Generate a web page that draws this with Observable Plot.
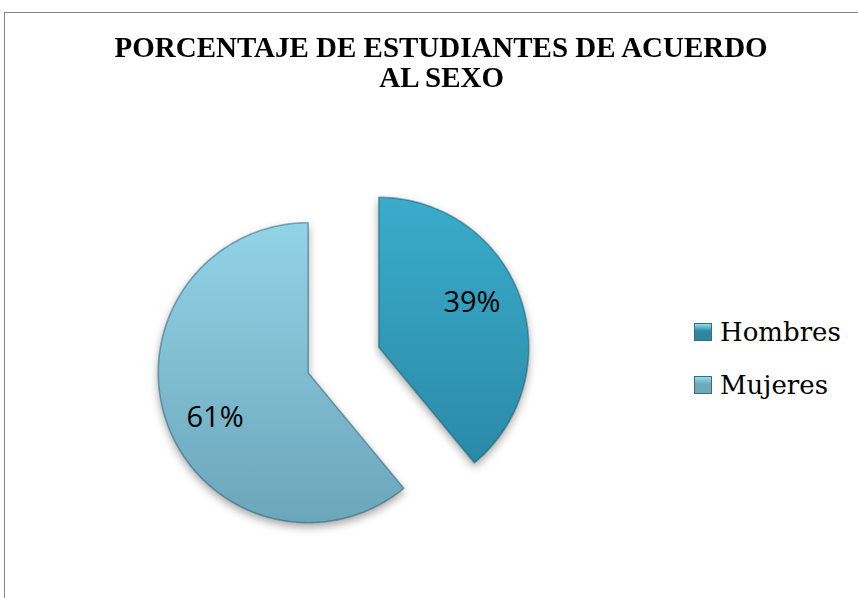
<!DOCTYPE html>
<html>
<head>
<meta charset="utf-8">
<script src="https://cdn.jsdelivr.net/npm/d3@7"></script>
<script src="https://cdn.jsdelivr.net/npm/@observablehq/plot@0.6"></script>
<style>
  html, body { margin: 0; padding: 0; background: #fff; }
  #wrap { position: relative; width: 858px; height: 598px; overflow: hidden; }
  #frame { position: absolute; left: 4px; top: 12px; width: 900px; height: 700px;
           border-left: 1px solid #858585; border-top: 1px solid #858585; }
  #title { position: absolute; left: 0; top: 32px; width: 883px; text-align: center;
           font-family: "Liberation Serif", serif; font-weight: bold; font-size: 30px;
           line-height: 30px; color: #000; }
  #title span { display: inline-block; transform-origin: 50% 50%; }
  #chart { position: absolute; left: 0; top: 0; }
  .leg { position: absolute; left: 694px; font-family: "DejaVu Serif", serif; font-size: 26px;
         color: #000; white-space: nowrap; }
  .sw { position: absolute; left: 0; width: 18px; height: 18px; box-sizing: border-box; }
  .leg span.t { position: absolute; left: 26px; }
</style>
</head>
<body>
<div id="wrap">
  <div id="frame"></div>
  <div id="chart"></div>
  <div id="title"><span id="t1">PORCENTAJE DE ESTUDIANTES DE ACUERDO</span><br><span id="t2">AL SEXO</span></div>
  <div id="legend"></div>
</div>
<script>
// ---- data ----
const categories = ["Hombres", "Mujeres"];
const values = [39, 61];
const labels = ["39%", "61%"];
const colorsTop = ["#3aaccb", "#93d3e7"];
const colorsBottom = ["#2a8aa8", "#6ba6bb"];
const legendSwatch = ["#2b87a3", "#6fa7bc"];

// ---- geometry (unit radius pie, y up) ----
const explode = 0.25;
const labelRadius = 0.69, labelTurn = -6 * Math.PI / 180;
const pie = d3.pie().sort(null).value(d => d)(values);
const slices = [];
const labelPts = [];
pie.forEach((p, i) => {
  const mid = (p.startAngle + p.endAngle) / 2;
  const ox = explode * Math.sin(mid), oy = explode * Math.cos(mid);
  slices.push({name: categories[i], x: ox, y: oy});
  const n = Math.max(2, Math.ceil((p.endAngle - p.startAngle) / (Math.PI / 180)));
  for (let j = 0; j <= n; j++) {
    const a = p.startAngle + (p.endAngle - p.startAngle) * j / n;
    slices.push({name: categories[i], x: ox + Math.sin(a), y: oy + Math.cos(a)});
  }
  const la = mid + labelTurn;
  labelPts.push({name: categories[i], label: labels[i],
                 x: ox + labelRadius * Math.sin(la), y: oy + labelRadius * Math.cos(la)});
});

const R = 150, cx = 343, cy = 359.5;
const chart = Plot.plot({
  width: 858, height: 598, margin: 0,
  x: {domain: [-cx / R, (858 - cx) / R], axis: null},
  y: {domain: [-(598 - cy) / R, cy / R], axis: null},
  color: {domain: categories, range: ["url(#gH)", "url(#gM)"]},
  marks: [
    Plot.line(slices, {x: "x", y: "y", z: "name", fill: "name", stroke: "#0d3e4e",
                       strokeOpacity: 0.4, strokeWidth: 1.6, curve: "linear-closed"}),
    Plot.text(labelPts, {x: "x", y: "y", text: "label", fontSize: 29, fill: "#000",
                         fontFamily: "Open Sans, sans-serif"})
  ]
});

const svg = d3.select(chart);
const defs = svg.insert("defs", ":first-child");
[["gH", 0], ["gM", 1]].forEach(([id, i]) => {
  const g = defs.append("linearGradient").attr("id", id)
    .attr("x1", 0).attr("y1", 0).attr("x2", 0).attr("y2", 1);
  g.append("stop").attr("offset", "0%").attr("stop-color", colorsTop[i]);
  g.append("stop").attr("offset", "100%").attr("stop-color", colorsBottom[i]);
});
const f = defs.append("filter").attr("id", "shadow")
  .attr("x", "-20%").attr("y", "-20%").attr("width", "140%").attr("height", "140%");
f.append("feDropShadow").attr("dx", 0).attr("dy", 4).attr("stdDeviation", 4)
  .attr("flood-color", "#000").attr("flood-opacity", 0.35);
svg.selectAll('g[aria-label="line"]').attr("filter", "url(#shadow)");

document.getElementById("chart").appendChild(chart);

// title: stretch horizontally to match the reference's width
const t1 = document.getElementById("t1"), t2 = document.getElementById("t2");
const sx = 653 / t1.getBoundingClientRect().width;
t1.style.transform = `scaleX(${sx})`;
t2.style.transform = `scaleX(${sx})`;

// ---- legend ----
const leg = document.getElementById("legend");
const legTops = [317, 370];
categories.forEach((c, i) => {
  const d = document.createElement("div");
  d.className = "leg";
  d.style.top = legTops[i] + "px";
  d.innerHTML = `<div class="sw" style="top:6px;background:linear-gradient(#8fe0f0 0%, ${legendSwatch[i]} 45%, ${legendSwatch[i]} 100%);border:1px solid #3d6a78"></div><span class="t">${c}</span>`;
  leg.appendChild(d);
});
</script>
</body>
</html>
